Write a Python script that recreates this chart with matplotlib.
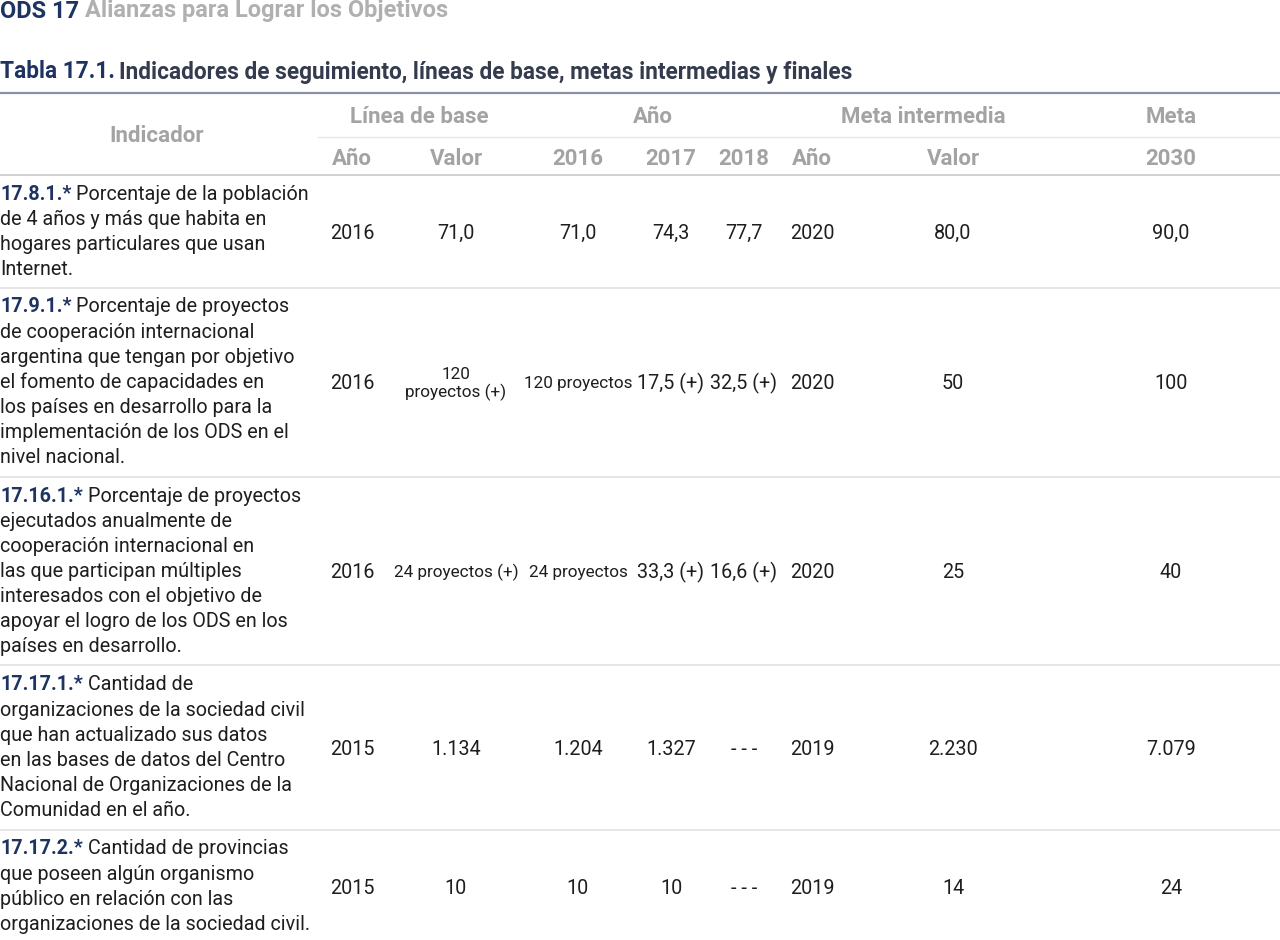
import matplotlib
matplotlib.use("Agg")
import matplotlib.pyplot as plt
from matplotlib import font_manager

available = {f.name for f in font_manager.fontManager.ttflist}
FAM = [f for f in ["Roboto", "DejaVu Sans"] if f in available]
plt.rcParams['font.family'] = FAM

# ---------------- data ----------------
codes = ["17.8.1.*", "17.9.1.*", "17.16.1.*", "17.17.1.*", "17.17.2.*"]
descriptions = [
    ["Porcentaje de la población", "de 4 años y más que habita en",
     "hogares particulares que usan", "Internet."],
    ["Porcentaje de proyectos", "de cooperación internacional",
     "argentina que tengan por objetivo", "el fomento de capacidades en",
     "los países en desarrollo para la", "implementación de los ODS en el",
     "nivel nacional."],
    ["Porcentaje de proyectos", "ejecutados anualmente de",
     "cooperación internacional en", "las que participan múltiples",
     "interesados con el objetivo de", "apoyar el logro de los ODS en los",
     "países en desarrollo."],
    ["Cantidad de", "organizaciones de la sociedad civil",
     "que han actualizado sus datos", "en las bases de datos del Centro",
     "Nacional de Organizaciones de la", "Comunidad en el año."],
    ["Cantidad de provincias", "que poseen algún organismo",
     "público en relación con las", "organizaciones de la sociedad civil."],
]
base_year = ["2016", "2016", "2016", "2015", "2015"]
base_value = ["71,0", "120\nproyectos (+)", "24 proyectos (+)", "1.134", "10"]
val_2016 = ["71,0", "120 proyectos", "24 proyectos", "1.204", "10"]
val_2017 = ["74,3", "17,5 (+)", "33,3 (+)", "1.327", "10"]
val_2018 = ["77,7", "32,5 (+)", "16,6 (+)", "---", "---"]
mid_year = ["2020", "2020", "2020", "2019", "2019"]
mid_value = ["80,0", "50", "25", "2.230", "14"]
goal_2030 = ["90,0", "100", "40", "7.079", "24"]

header_top = ["Línea de base", "Año", "Meta intermedia", "Meta"]
header_sub = ["Año", "Valor", "2016", "2017", "2018", "Año", "Valor", "2030"]

title_ods = "ODS 17"
title_ods_rest = "Alianzas para Lograr los Objetivos"
table_num = "Tabla 17.1."
table_title = "Indicadores de seguimiento, líneas de base, metas intermedias y finales"

# ---------------- layout ----------------
W, H = 1280, 940
fig = plt.figure(figsize=(12.8, 9.4), dpi=100)
ax = fig.add_axes([0, 0, 1, 1])
ax.set_xlim(0, W)
ax.set_ylim(H, 0)
ax.axis('off')

DARK_BLUE = "#1d3462"
TITLE_GRAY = "#b0b0b0"
TITLE_DARK = "#333b4d"
HEAD = "#a3a3a3"
BODY = "#1e1e1e"
FS = 14.2
FS_HEAD = 16.0
FS_SMALL = 12.3


def two_part(x, y, a, b, fs, ca, cb, wa='bold', wb='normal', gap=4):
    t = ax.text(x, y, a, fontsize=fs, color=ca, fontweight=wa, va='center', ha='left')
    ax.annotate(b, xy=(1, 0.5), xycoords=t, xytext=(gap, 0), textcoords='offset points',
                fontsize=fs, color=cb, fontweight=wb, va='center', ha='left')


two_part(0, 11, title_ods, title_ods_rest, 17, DARK_BLUE, TITLE_GRAY, 'bold', 'bold')
two_part(0, 72, table_num, table_title, 16.3, DARK_BLUE, TITLE_DARK, 'bold', 'bold', gap=3)

# rules
ax.plot([0, W], [93, 93], color="#8a90a6", lw=1.6)
ax.plot([318, W], [137, 137], color="#e6e6e6", lw=1.0)
ax.plot([0, W], [175, 175], color="#c8c8c8", lw=1.2)
row_seps = [288, 477, 665, 830]
for ys in row_seps:
    ax.plot([0, W], [ys, ys], color="#e2e2e2", lw=1.2)

# header
col_x = [352, 456, 578, 671, 744, 812, 953, 1171]
top_x = [419, 653, 923, 1171]
ax.text(157, 136, "Indicador", fontsize=FS_HEAD, color=HEAD, fontweight='bold', ha='center', va='center')
for label, cx in zip(header_top, top_x):
    ax.text(cx, 117, label, fontsize=FS_HEAD, color=HEAD, fontweight='bold', ha='center', va='center')
for label, cx in zip(header_sub, col_x):
    ax.text(cx, 159, label, fontsize=FS_HEAD, color=HEAD, fontweight='bold', ha='center', va='center')

# body
row_first_line = [194, 307, 496, 685, 849]
LINE = 25.1
for i in range(len(codes)):
    y0 = row_first_line[i]
    lines = descriptions[i]
    two_part(0, y0, codes[i], lines[0], FS, DARK_BLUE, BODY, 'bold', 'normal', gap=3.5)
    for k, ln in enumerate(lines[1:], start=1):
        ax.text(0, y0 + k * LINE, ln, fontsize=FS, color=BODY, va='center', ha='left')
    yc = y0 + (len(lines) - 1) * LINE / 2 + 1.5
    vals = [base_year[i], base_value[i], val_2016[i], val_2017[i], val_2018[i],
            mid_year[i], mid_value[i], goal_2030[i]]
    for v, cx in zip(vals, col_x):
        fs = FS_SMALL if "proyectos" in v else FS
        shown = "- - -" if v == "---" else v
        ax.text(cx, yc, shown, fontsize=fs, color=BODY, ha='center', va='center',
                linespacing=1.15, multialignment='center')

fig.savefig("out.png", dpi=100)
